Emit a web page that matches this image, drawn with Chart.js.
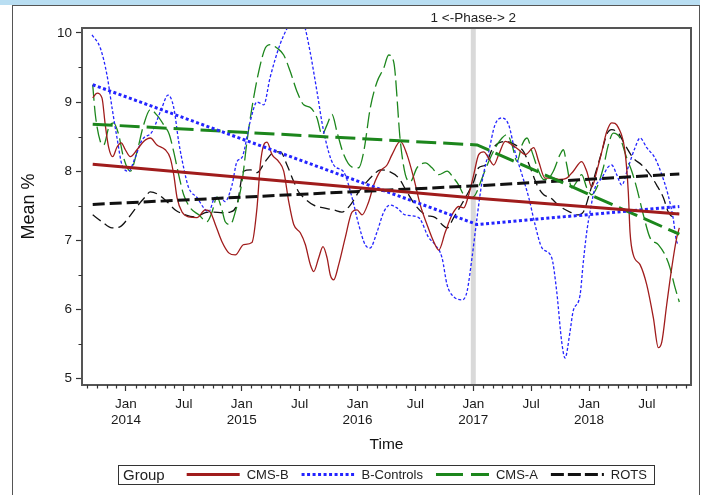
<!DOCTYPE html>
<html>
<head>
<meta charset="utf-8">
<script src="https://cdn.jsdelivr.net/npm/chart.js@4.4.1/dist/chart.umd.min.js"></script>
<style>
  html, body { margin: 0; padding: 0; background: #fff; }
  body { width: 703px; height: 495px; position: relative; overflow: hidden; }
  #band { position: absolute; left: 0; top: 0; width: 700px; height: 5px; background: #b9def2; }
  #frame { position: absolute; left: 12px; top: 5px; width: 688px; height: 500px; border: 1.5px solid #555; box-sizing: border-box; }
  canvas { position: absolute; left: 0; top: 0; }
</style>
</head>
<body>
<div id="band"></div>
<div id="frame"></div>
<canvas id="chart" width="703" height="495"></canvas>
<script>
// x values are months counted from Jan 2014 (0 = Jan 2014, 36 = Jan 2017)
const xTickMonths = [0, 6, 12, 18, 24, 30, 36, 42, 48, 54];
const xTickLabels = [['Jan', '2014'], 'Jul', ['Jan', '2015'], 'Jul', ['Jan', '2016'], 'Jul',
                     ['Jan', '2017'], 'Jul', ['Jan', '2018'], 'Jul'];
const yTicks = [5, 6, 7, 8, 9, 10];
const phaseBreak = 36;
const phaseLabel = '1 <-Phase-> 2';

// [month, mean %]
const cmsB = [[-3.45,9.06],[-3.0,9.13],[-2.49,9.06],[-2.15,8.67],[-1.79,8.34],[-1.38,8.21],[-0.93,8.35],[-0.49,8.41],[-0.07,8.31],[0.45,8.21],
  [1.14,8.31],[1.83,8.43],[2.52,8.48],[3.21,8.38],[4.07,8.31],[4.59,8.19],[4.95,7.95],[5.29,7.62],[5.81,7.41],[6.5,7.34],
  [7.36,7.33],[8.22,7.44],[8.74,7.41],[9.26,7.23],[9.95,6.98],[10.65,6.82],[11.33,6.79],[12.2,6.94],[13.06,6.97],[13.58,7.47],
  [13.92,8.09],[14.28,8.38],[14.62,8.42],[15.14,8.24],[15.83,8.14],[16.35,8.0],[16.87,7.56],[17.39,7.23],[18.07,7.11],[18.59,6.94],
  [19.11,6.65],[19.46,6.55],[19.98,6.75],[20.42,6.91],[20.84,6.75],[21.18,6.50],[21.53,6.43],[22.05,6.65],[22.73,7.04],[23.43,7.41],
  [23.95,7.44],[24.47,7.37],[25.16,7.56],[25.68,7.80],[26.36,8.00],[27.06,8.09],[27.58,8.24],[28.44,8.43],[29.13,8.24],[29.83,7.90],
  [30.51,7.51],[31.2,7.23],[31.9,6.98],[32.42,6.86],[33.1,7.12],[33.8,7.37],[34.49,7.49],[35.01,7.47],[35.53,7.66],[36.05,7.95],
  [36.56,8.24],[37.08,8.28],[37.6,8.19],[38.12,8.09],[38.64,8.24],[39.32,8.43],[40.02,8.38],[40.71,8.31],[41.4,8.24],[42.27,8.34],
  [42.78,8.14],[43.44,7.90],[44.3,7.90],[44.99,7.88],[45.69,7.90],[46.37,8.00],[47.24,8.14],[47.76,8.00],[48.28,7.77],[48.8,8.00],
  [49.32,8.28],[49.83,8.57],[50.35,8.70],[51.04,8.63],[51.73,8.28],[52.07,7.70],[52.25,7.12],[52.59,6.79],[53.29,6.65],[53.98,6.36],
  [54.67,5.88],[55.18,5.45],[55.54,5.53],[56.05,6.07],[56.57,6.60],[57.09,7.04],[57.36,7.18]];

const bControls = [[-3.52,9.97],[-2.66,9.78],[-1.97,9.39],[-1.45,8.92],[-0.93,8.48],[-0.41,8.09],[0.28,8.00],[0.93,8.19],[1.66,8.45],[2.70,8.57],
  [3.73,8.92],[4.35,9.10],[4.95,8.92],[5.46,8.43],[5.98,8.05],[6.50,7.76],[7.36,7.62],[8.06,7.47],[8.57,7.41],[9.23,7.62],
  [9.95,7.60],[10.26,7.56],[10.99,7.80],[11.51,8.14],[12.03,8.20],[12.86,8.71],[13.58,9.00],[14.28,8.96],[14.93,9.35],[15.96,9.83],
  [17.0,10.15],[17.73,10.35],[18.42,10.15],[19.08,9.73],[19.80,9.15],[20.5,8.57],[21.53,8.09],[22.57,7.99],[23.43,7.62],[24.12,7.23],
  [24.78,6.94],[25.3,6.89],[26.02,7.12],[26.72,7.41],[27.37,7.51],[28.09,7.47],[28.93,7.37],[30.34,7.33],[31.38,7.04],[32.03,6.94],
  [32.76,6.75],[33.28,6.36],[33.8,6.21],[34.83,6.14],[35.35,6.26],[35.87,6.75],[36.39,7.33],[36.91,7.85],[37.6,8.28],[38.25,8.67],
  [38.98,8.77],[39.67,8.67],[40.33,8.28],[41.05,7.95],[41.75,7.62],[42.4,7.23],[43.13,6.89],[44.13,6.75],[44.65,6.26],[45.17,5.53],
  [45.51,5.30],[46.03,5.68],[46.34,5.97],[47.07,6.21],[47.38,6.65],[47.76,7.12],[48.1,7.41],[48.62,7.76],[49.32,7.90],[49.97,8.06],
  [50.35,8.09],[50.87,7.95],[51.39,7.80],[52.04,8.05],[52.77,8.34],[53.29,8.48],[53.98,8.34],[54.84,8.19],[55.54,7.95],[56.19,7.66],
  [56.71,7.33],[57.09,6.98],[57.36,6.94]];

const cmsA = [[-3.45,9.25],[-3.18,8.82],[-2.66,8.43],[-2.31,8.38],[-1.79,8.63],[-1.28,8.70],[-0.76,8.53],[-0.24,8.19],[0.45,8.00],[1.14,8.28],
  [1.83,8.67],[2.52,8.89],[3.21,8.81],[3.91,8.67],[4.49,8.53],[4.95,8.28],[5.46,7.95],[5.98,7.66],[6.67,7.47],[7.54,7.37],
  [8.40,7.27],[8.92,7.41],[9.43,7.63],[9.95,7.44],[10.29,7.27],[10.81,7.23],[11.33,7.41],[12.03,7.85],[12.54,8.43],[13.06,8.92],
  [13.76,9.44],[14.44,9.78],[14.96,9.83],[15.65,9.78],[16.35,9.68],[17.03,9.44],[17.73,9.15],[18.42,8.96],[19.11,8.92],[19.80,8.77],
  [20.32,8.53],[20.84,8.67],[21.36,8.82],[21.87,8.57],[22.57,8.24],[23.43,8.06],[24.12,8.05],[24.64,8.28],[25.33,8.92],[26.02,9.29],
  [26.72,9.49],[27.23,9.68],[27.75,9.58],[28.44,8.43],[28.96,7.95],[29.48,7.85],[30.17,8.05],[31.03,8.12],[31.72,8.05],[32.42,7.95],
  [33.28,8.00],[33.97,7.90],[34.49,7.80],[35.01,7.66],[35.53,7.61],[36.21,7.66],[36.91,7.90],[37.6,8.14],[38.29,8.34],[38.98,8.48],
  [39.5,8.53],[40.02,8.38],[40.54,8.14],[41.05,8.38],[41.57,8.48],[42.09,8.28],[42.78,8.00],[43.3,7.88],[43.61,7.88],[44.3,8.00],
  [44.99,8.24],[45.34,8.31],[45.69,8.09],[46.21,7.76],[46.73,7.85],[47.24,7.95],[47.76,7.76],[48.28,7.66],[48.8,7.76],[49.48,8.05],
  [50.0,8.38],[50.52,8.55],[51.21,8.48],[51.91,8.19],[52.43,8.00],[52.94,7.76],[53.63,7.37],[54.32,7.04],[55.18,6.94],[55.88,6.79],
  [56.4,6.60],[56.91,6.32],[57.36,6.11]];

const rots = [[-3.45,7.37],[-2.49,7.27],[-1.45,7.18],[-0.59,7.20],[0.28,7.33],[1.14,7.49],[2.0,7.63],[2.52,7.70],[3.39,7.66],[4.25,7.56],
  [5.11,7.44],[6.15,7.37],[7.18,7.34],[8.22,7.40],[9.09,7.41],[9.95,7.40],[10.81,7.41],[11.51,7.52],[12.2,8.00],[12.89,8.02],
  [13.58,7.98],[14.44,8.14],[15.31,8.27],[16.0,8.28],[16.69,8.09],[17.39,7.85],[17.9,7.70],[18.42,7.62],[19.46,7.51],[20.5,7.47],
  [21.53,7.44],[22.39,7.41],[23.25,7.51],[24.12,7.70],[24.98,7.85],[25.68,7.95],[26.36,8.02],[27.23,8.00],[28.27,7.90],[29.13,7.70],
  [29.99,7.51],[31.03,7.37],[32.07,7.33],[32.76,7.23],[33.28,7.18],[33.97,7.33],[34.66,7.49],[35.35,7.66],[36.05,7.85],[36.56,8.05],
  [37.25,8.09],[37.94,8.31],[38.64,8.41],[39.5,8.43],[40.36,8.38],[41.23,8.28],[41.91,8.05],[42.61,7.80],[43.3,7.66],[43.96,7.62],
  [44.99,7.49],[46.03,7.41],[46.89,7.37],[47.41,7.41],[48.1,7.70],[48.62,7.95],[49.32,8.28],[49.83,8.53],[50.35,8.60],[51.04,8.55],
  [51.73,8.38],[52.59,8.19],[53.46,8.09],[54.32,7.95],[55.01,7.80],[55.70,7.62],[56.22,7.41],[56.74,7.34],[57.26,7.40]];

// fitted trend per phase: start, phase break, end
const trendMonths = [-3.45, 36.4, 57.36];
const cmsBTrend = [8.10, 7.61, 7.38];
const bControlsTrend = [9.25, 7.23, 7.49];
const cmsATrend = [8.68, 8.38, 7.09];
const rotsTrend = [7.52, 7.79, 7.96];

const groups = [
  { label: 'CMS-B', raw: cmsB, trend: cmsBTrend, color: '#a01c1c', dash: [], thinDash: [], legendDash: [] },
  { label: 'B-Controls', raw: bControls, trend: bControlsTrend, color: '#2424ff', dash: [3, 2.5], thinDash: [3, 2], legendDash: [3, 2.5] },
  { label: 'CMS-A', raw: cmsA, trend: cmsATrend, color: '#1c861c', dash: [20, 7], thinDash: [16, 5], legendDash: [27, 8] },
  { label: 'ROTS', raw: rots, trend: rotsTrend, color: '#111111', dash: [12, 5], thinDash: [10, 5], legendDash: [13, 4] },
];

const toXY = pairs => pairs.map(([x, y]) => ({ x, y }));

const datasets = [];
groups.forEach(g => {
  datasets.push({
    label: g.label + ' trend',
    data: trendMonths.map((m, i) => ({ x: m, y: g.trend[i] })),
    borderColor: g.color,
    borderWidth: 3,
    borderDash: g.dash,
    tension: 0,
  });
});
groups.forEach(g => {
  datasets.push({
    label: g.label,
    data: toXY(g.raw),
    borderColor: g.color,
    borderWidth: 1.3,
    borderDash: g.thinDash,
    cubicInterpolationMode: 'monotone',
  });
});

const FONT = "'Liberation Sans', Arial, sans-serif";
Chart.defaults.font.family = FONT;

const decor = {
  id: 'decor',
  beforeDatasetsDraw(chart) {
    const { ctx, chartArea: a, scales: { x } } = chart;
    const px = x.getPixelForValue(phaseBreak);
    ctx.save();
    ctx.fillStyle = '#d9d9d9';
    ctx.fillRect(px - 2.5, a.top, 5, a.bottom - a.top);
    ctx.restore();
  },
  afterDraw(chart) {
    const { ctx, chartArea: a, scales: { x, y } } = chart;
    ctx.save();
    // plot frame
    ctx.strokeStyle = '#555';
    ctx.lineWidth = 2;
    ctx.strokeRect(a.left, a.top, a.right - a.left, a.bottom - a.top);

    // minor ticks
    ctx.strokeStyle = '#333';
    ctx.lineWidth = 1.2;
    ctx.beginPath();
    for (let m = Math.ceil(x.min); m <= x.max; m++) {
      if (m % 6 === 0) continue;
      const p = Math.round(x.getPixelForValue(m)) + 0.5;
      ctx.moveTo(p, a.bottom);
      ctx.lineTo(p, a.bottom + 3.5);
    }
    for (let v = 5.5; v < y.max; v += 1) {
      const p = Math.round(y.getPixelForValue(v)) + 0.5;
      ctx.moveTo(a.left, p);
      ctx.lineTo(a.left - 3.5, p);
    }
    ctx.stroke();

    // phase label
    ctx.fillStyle = '#222';
    ctx.font = '13.5px ' + FONT;
    ctx.textAlign = 'center';
    ctx.textBaseline = 'middle';
    ctx.fillText(phaseLabel, x.getPixelForValue(phaseBreak), 18);

    // legend
    const boxL = 118, boxT = 465, boxR = 654, boxB = 484;
    const cy = (boxT + boxB) / 2;
    ctx.lineWidth = 1;
    ctx.strokeStyle = '#333';
    ctx.strokeRect(boxL + 0.5, boxT + 0.5, boxR - boxL, boxB - boxT);
    ctx.textAlign = 'left';
    ctx.font = '15px ' + FONT;
    let cx = boxL + 5;
    ctx.fillText('Group', cx, cy + 1);
    cx += ctx.measureText('Group').width + 22;
    ctx.font = '13px ' + FONT;
    groups.forEach(g => {
      ctx.save();
      ctx.strokeStyle = g.color;
      ctx.lineWidth = 3;
      ctx.setLineDash(g.legendDash);
      ctx.beginPath();
      ctx.moveTo(cx, cy);
      ctx.lineTo(cx + 53, cy);
      ctx.stroke();
      ctx.restore();
      cx += 60;
      ctx.fillText(g.label, cx, cy + 1);
      cx += ctx.measureText(g.label).width + 13;
    });
    ctx.restore();
  }
};

new Chart(document.getElementById('chart'), {
  type: 'line',
  data: { datasets },
  options: {
    responsive: false,
    devicePixelRatio: 1,
    animation: false,
    layout: { padding: { top: 28, right: 12, bottom: 0, left: 0 } },
    elements: { point: { radius: 0 } },
    plugins: { legend: { display: false }, tooltip: { enabled: false } },
    scales: {
      x: {
        type: 'linear',
        min: -4.56,
        max: 58.57,
        afterBuildTicks: s => { s.ticks = xTickMonths.map(v => ({ value: v })); },
        afterFit: s => { s.height = 110; },
        grid: { drawOnChartArea: false, drawTicks: true, tickLength: 6, tickColor: '#333', tickWidth: 1.2 },
        border: { display: false },
        ticks: {
          autoSkip: false, maxRotation: 0, padding: 5, color: '#1a1a1a',
          font: { size: 13.5 },
          callback: (v, i) => xTickLabels[i]
        },
        title: { display: true, text: 'Time', color: '#111', font: { size: 15.5 }, padding: { top: 0, bottom: 41 } }
      },
      y: {
        type: 'linear',
        min: 4.91,
        max: 10.07,
        afterBuildTicks: s => { s.ticks = yTicks.map(v => ({ value: v })); },
        afterFit: s => { s.width = 82; },
        grid: { drawOnChartArea: false, drawTicks: true, tickLength: 6, tickColor: '#333', tickWidth: 1.2 },
        border: { display: false },
        ticks: { padding: 4, color: '#1a1a1a', font: { size: 13.5 }, callback: v => v },
        title: { display: true, text: 'Mean %', color: '#111', font: { size: 18 }, padding: { top: 18, bottom: 0 } }
      }
    }
  },
  plugins: [decor]
});
</script>
</body>
</html>
